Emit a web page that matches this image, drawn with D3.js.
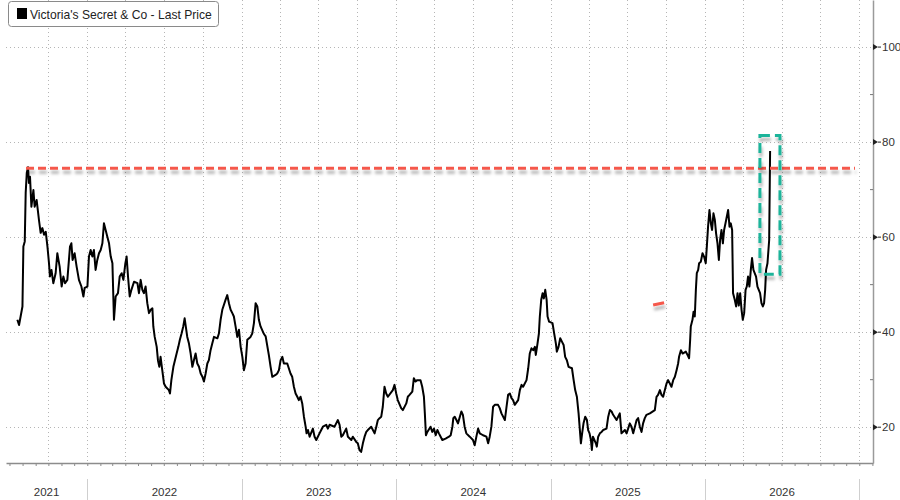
<!DOCTYPE html>
<html>
<head>
<meta charset="utf-8">
<script src="https://cdn.jsdelivr.net/npm/d3@7"></script>
<style>
  html, body { margin: 0; padding: 0; background: #fff; }
  svg { display: block; }
  text { font-family: "Liberation Sans", Arial, sans-serif; }
</style>
</head>
<body>
<script>
// ---------------- DATA ----------------
// time as decimal years
const dates = [
2021.547,2021.558,2021.580,2021.586,2021.595,2021.601,2021.608,2021.616,2021.622,2021.629,
2021.638,2021.651,2021.659,2021.672,2021.687,2021.698,2021.709,2021.720,2021.731,2021.742,
2021.752,2021.758,2021.768,2021.780,2021.795,2021.806,2021.821,2021.834,2021.845,2021.856,
2021.871,2021.888,2021.897,2021.905,2021.918,2021.931,2021.946,2021.962,2021.975,2021.983,
2022.001,2022.011,2022.022,2022.033,2022.043,2022.054,2022.065,2022.076,2022.087,2022.098,
2022.108,2022.119,2022.130,2022.141,2022.152,2022.163,2022.173,2022.184,2022.199,2022.210,
2022.223,2022.234,2022.247,2022.255,2022.264,2022.275,2022.286,2022.303,2022.325,2022.335,
2022.346,2022.357,2022.367,2022.378,2022.389,2022.400,2022.411,2022.422,2022.428,2022.437,
2022.450,2022.458,2022.467,2022.475,2022.486,2022.497,2022.508,2022.529,2022.536,2022.545,
2022.558,2022.579,2022.590,2022.600,2022.611,2022.622,2022.631,2022.648,2022.659,2022.670,
2022.681,2022.691,2022.702,2022.713,2022.724,2022.735,2022.746,2022.756,2022.767,2022.778,
2022.788,2022.799,2022.810,2022.821,2022.843,2022.853,2022.864,2022.875,2022.896,2022.907,
2022.918,2022.929,2022.940,2022.950,2022.961,2022.972,2022.983,2022.994,2023.005,2023.015,
2023.026,2023.037,2023.058,2023.069,2023.080,2023.091,2023.102,2023.112,2023.123,2023.145,
2023.156,2023.177,2023.188,2023.199,2023.220,2023.231,2023.242,2023.253,2023.264,2023.274,
2023.296,2023.317,2023.328,2023.339,2023.350,2023.361,2023.371,2023.382,2023.393,2023.404,
2023.415,2023.421,2023.430,2023.441,2023.462,2023.473,2023.484,2023.505,2023.516,2023.527,
2023.549,2023.559,2023.570,2023.602,2023.613,2023.624,2023.635,2023.646,2023.656,2023.678,
2023.689,2023.711,2023.721,2023.743,2023.753,2023.764,2023.775,2023.786,2023.797,2023.808,
2023.818,2023.840,2023.862,2023.873,2023.883,2023.894,2023.905,2023.915,2023.926,2023.937,
2023.948,2023.980,2023.991,2024.002,2024.012,2024.034,2024.045,2024.067,2024.077,2024.088,
2024.106,2024.116,2024.127,2024.138,2024.159,2024.170,2024.181,2024.187,2024.194,2024.203,
2024.224,2024.235,2024.246,2024.257,2024.268,2024.278,2024.289,2024.300,2024.321,2024.343,
2024.354,2024.365,2024.371,2024.380,2024.391,2024.401,2024.423,2024.433,2024.444,2024.455,
2024.477,2024.498,2024.509,2024.520,2024.531,2024.542,2024.563,2024.585,2024.596,2024.606,
2024.617,2024.628,2024.639,2024.660,2024.671,2024.682,2024.704,2024.715,2024.725,2024.736,
2024.747,2024.757,2024.768,2024.790,2024.801,2024.812,2024.822,2024.844,2024.855,2024.865,
2024.876,2024.887,2024.898,2024.904,2024.915,2024.924,2024.930,2024.939,2024.948,2024.956,
2024.965,2024.974,2024.980,2024.990,2025.012,2025.023,2025.034,2025.040,2025.051,2025.062,
2025.073,2025.084,2025.094,2025.105,2025.116,2025.138,2025.149,2025.159,2025.170,2025.181,
2025.191,2025.196,2025.204,2025.213,2025.224,2025.235,2025.243,2025.252,2025.261,2025.267,
2025.274,2025.293,2025.299,2025.308,2025.319,2025.330,2025.340,2025.362,2025.373,2025.384,
2025.395,2025.405,2025.427,2025.448,2025.459,2025.481,2025.492,2025.502,2025.513,2025.524,
2025.535,2025.546,2025.557,2025.567,2025.578,2025.589,2025.599,2025.610,2025.621,2025.643,
2025.675,2025.686,2025.696,2025.708,2025.718,2025.729,2025.740,2025.751,2025.761,2025.783,
2025.794,2025.805,2025.816,2025.826,2025.832,2025.844,2025.855,2025.876,2025.887,2025.897,
2025.904,2025.908,2025.919,2025.926,2025.934,2025.941,2025.947,2025.956,2025.962,2025.973,
2025.984,2025.994,2026.005,2026.012,2026.020,2026.029,2026.038,2026.046,2026.055,2026.064,
2026.072,2026.081,2026.090,2026.098,2026.107,2026.116,2026.124,2026.133,2026.150,2026.159,
2026.167,2026.176,2026.182,2026.193,2026.202,2026.211,2026.219,2026.228,2026.237,2026.245,
2026.254,2026.263,2026.271,2026.279,2026.288,2026.297,2026.305,2026.314,2026.331,2026.340,
2026.357,2026.366,2026.375,2026.383,2026.390,2026.396,2026.405,2026.416,2026.422
];
const prices = [
42.5,41.4,45.3,57.9,59.0,69.2,73.4,74.6,71.3,72.6,
66.3,69.8,66.3,67.7,63.5,60.8,61.8,60.4,61.0,57.9,
54.4,51.6,53.0,50.2,52.3,56.5,53.7,49.5,51.6,50.2,
50.9,57.9,58.6,55.1,56.5,53.7,50.9,49.5,47.4,49.2,
49.5,55.8,57.2,55.8,57.2,53.0,55.1,56.5,57.2,58.6,
62.8,61.4,60.0,58.6,55.8,54.4,42.5,47.4,48.1,51.6,
52.3,50.9,54.4,55.8,51.6,47.4,48.8,50.5,50.2,48.1,
50.9,48.8,48.1,49.5,46.0,43.9,44.6,44.9,41.1,38.9,
36.8,34.0,32.6,34.7,31.9,29.1,28.4,27.7,27.0,29.8,
32.6,35.4,36.8,38.3,39.6,41.1,42.8,38.9,37.5,35.4,
32.6,34.0,35.4,33.3,32.6,31.2,30.5,29.5,31.2,33.3,
34.0,36.1,37.5,38.9,38.6,39.6,42.5,44.6,46.7,47.7,
46.0,44.6,43.9,43.2,41.1,38.9,40.4,36.8,34.7,31.9,
33.3,38.3,38.9,39.6,41.8,46.0,45.3,42.5,41.1,39.5,
39.0,35.0,32.6,30.5,30.9,31.2,31.9,34.0,34.7,33.3,
33.3,31.2,30.5,28.4,27.0,26.3,25.6,26.3,24.9,22.1,
20.0,18.6,19.3,17.9,19.6,17.9,17.2,18.6,19.3,20.0,
20.4,19.6,20.4,20.0,20.7,21.4,20.4,17.9,18.2,19.6,
17.9,17.2,17.9,16.8,16.5,15.1,14.7,16.5,17.9,18.9,
19.3,20.0,18.6,20.0,21.4,21.8,22.1,24.2,28.4,27.0,
26.3,27.7,28.8,27.0,25.6,23.9,23.5,24.9,26.3,26.7,
27.4,30.2,29.5,29.8,29.8,28.4,26.3,22.8,18.2,18.9,
20.0,18.9,19.6,18.2,19.3,18.6,17.9,17.2,17.5,17.9,
18.2,20.0,21.8,22.1,21.4,20.7,23.2,22.5,20.0,18.6,
17.9,17.2,16.1,17.9,19.6,18.6,18.2,17.9,16.5,17.9,
20.0,24.2,24.6,24.6,23.9,22.8,21.4,24.2,26.7,27.0,
26.0,25.6,24.6,25.6,27.7,28.8,28.4,29.8,32.3,35.4,
36.5,36.1,36.8,35.1,37.5,39.6,43.2,46.7,48.1,47.0,
48.8,46.7,43.2,42.1,41.8,39.6,37.5,35.8,36.8,38.6,
37.9,37.2,34.7,34.0,32.6,32.3,29.8,27.7,26.3,22.8,
18.6,16.5,18.6,20.7,22.1,21.4,19.3,18.6,17.2,15.1,
17.9,16.5,15.8,17.9,18.6,18.9,19.3,19.6,22.1,23.5,
23.2,22.5,21.4,22.8,18.6,19.3,18.6,19.6,20.7,20.0,
18.6,20.0,21.4,21.8,20.0,18.9,20.7,21.8,22.5,22.8,
23.5,26.3,26.7,27.7,26.7,26.3,27.7,29.1,29.8,28.4,
29.8,30.5,31.9,33.3,34.7,36.1,35.4,35.8,35.1,34.4,
38.3,41.1,42.5,44.2,43.2,48.8,52.3,53.0,54.4,54.7,
56.5,55.8,54.4,57.9,62.1,65.6,62.8,61.4,64.9,63.5,
60.7,58.6,55.1,59.3,61.4,58.6,61.4,62.8,65.6,62.1,
62.8,61.4,48.1,46.7,45.3,48.1,45.5,48.1,44.6,42.5,
43.9,48.8,49.5,51.6,49.5,53.0,55.5,53.0,51.6,49.5,
48.1,46.0,45.3,46.0,48.8,53.0,54.4,59.3,78.0
];
const yTicks = [20, 40, 60, 80, 100];
const yMinorTicks = [30, 50, 70, 90];
const legendLabel = "Victoria's Secret & Co - Last Price";
// annotations (data coordinates)
const refLevel = [74.4];
const refSpan = [2021.603, 2026.972];
const smallMark = [[2025.664, 45.6], [2025.735, 46.1]];
const boxSpan = [2026.356, 2026.486];
const boxRange = [52.1, 81.3];
const xDomain = [2021.4734, 2027.0888];
const yDomain = [12.36, 109.8];

(function () {
function decToDate(t) {
  const yr = Math.floor(t);
  const s = Date.UTC(yr, 0, 1), e = Date.UTC(yr + 1, 0, 1);
  return new Date(s + (t - yr) * (e - s));
}
const series = dates.map((t, i) => ({ date: decToDate(t), value: prices[i] }));

const W = 900, H = 500;
const pL = 6, pR = 873, pT = 0, pB = 463;

const x = d3.scaleUtc().domain(xDomain.map(decToDate)).range([pL, pR]);
const y = d3.scaleLinear().domain(yDomain).range([pB, pT]);

const svg = d3.select("body").append("svg").attr("width", W).attr("height", H);

const defs = svg.append("defs");
const f = defs.append("filter").attr("id", "shadow")
  .attr("filterUnits", "userSpaceOnUse")
  .attr("x", 0).attr("y", 0).attr("width", W).attr("height", H);
f.append("feGaussianBlur").attr("in", "SourceAlpha").attr("stdDeviation", 1.6).attr("result", "blur");
f.append("feOffset").attr("in", "blur").attr("dx", 1).attr("dy", 4).attr("result", "off");
f.append("feFlood").attr("flood-color", "#000").attr("flood-opacity", 0.3).attr("result", "col");
f.append("feComposite").attr("in", "col").attr("in2", "off").attr("operator", "in").attr("result", "sh");
const fm = f.append("feMerge");
fm.append("feMergeNode").attr("in", "sh");
fm.append("feMergeNode").attr("in", "SourceGraphic");

// grid
const grid = svg.append("g");
const quarters = d3.utcMonth.every(3).range(decToDate(2021.6), x.domain()[1]);
grid.selectAll("line.v").data(quarters).join("line")
  .attr("x1", d => Math.round(x(d)) + 0.5).attr("x2", d => Math.round(x(d)) + 0.5)
  .attr("y1", pT).attr("y2", pB)
  .attr("stroke", "#b5b5b5").attr("stroke-width", 1).attr("stroke-dasharray", "1,3");
grid.selectAll("line.h").data(yTicks).join("line")
  .attr("x1", pL).attr("x2", pR)
  .attr("y1", d => Math.round(y(d)) + 0.5).attr("y2", d => Math.round(y(d)) + 0.5)
  .attr("stroke", "#b5b5b5").attr("stroke-width", 1).attr("stroke-dasharray", "1,3");

// bottom axis
const xAxis = d3.axisBottom(x).ticks(d3.utcMonth.every(1)).tickSize(3).tickSizeOuter(0).tickFormat("");
const gx = svg.append("g").attr("transform", `translate(0,${pB})`).call(xAxis);
gx.select(".domain").attr("stroke", "#8c8c8c").attr("stroke-width", 1.5);
gx.selectAll(".tick line").attr("stroke", "#8c8c8c");

const years = d3.utcYear.range(d3.utcYear.ceil(x.domain()[0]), x.domain()[1]);
svg.append("g").selectAll("line").data(years).join("line")
  .attr("x1", d => Math.round(x(d)) + 0.5).attr("x2", d => Math.round(x(d)) + 0.5)
  .attr("y1", 479).attr("y2", 500)
  .attr("stroke", "#cfcfcf").attr("stroke-width", 1);

const yearStarts = [d3.utcYear.floor(x.domain()[0])].concat(years);
const yearLabels = yearStarts.map(d => {
  const a = Math.max(x(d), pL), b = Math.min(x(d3.utcYear.offset(d, 1)), pR);
  return { label: d.getUTCFullYear(), cx: (a + b) / 2, w: b - a };
}).filter(d => d.w > 40);
svg.append("g").selectAll("text").data(yearLabels).join("text")
  .attr("x", d => d.cx).attr("y", 496)
  .attr("text-anchor", "middle").attr("font-size", 11.5).attr("fill", "#333")
  .text(d => d.label);

// right axis
const yAxis = d3.axisRight(y).tickValues(yTicks).tickSize(0).tickPadding(9).tickFormat(d3.format("d"));
const gy = svg.append("g").attr("transform", `translate(${pR},0)`).call(yAxis);
gy.select(".domain").attr("stroke", "#9a9a9a").attr("stroke-width", 1.5);
gy.selectAll(".tick text").attr("font-size", 11.5).attr("fill", "#333")
  .attr("font-family", "Liberation Sans, Arial, sans-serif");
gy.selectAll(".tick").append("path")
  .attr("d", "M0,-3L5,0L0,3Z").attr("fill", "#222");
gy.selectAll(".tick").append("line")
  .attr("x1", 5).attr("x2", 8).attr("stroke", "#222").attr("stroke-width", 1);

const yMinor = d3.axisLeft(y).tickValues(yMinorTicks).tickSize(3).tickFormat("");
const gym = svg.append("g").attr("transform", `translate(${pR},0)`).call(yMinor);
gym.select(".domain").remove();
gym.selectAll(".tick line").attr("stroke", "#777");

// price line
const line = d3.line().x(d => x(d.date)).y(d => y(d.value));
svg.append("path").datum(series)
  .attr("d", line).attr("fill", "none")
  .attr("stroke", "#000").attr("stroke-width", 2).attr("stroke-linejoin", "round");

// annotations
svg.append("line")
  .attr("x1", x(decToDate(refSpan[0]))).attr("x2", x(decToDate(refSpan[1])))
  .attr("y1", y(refLevel[0])).attr("y2", y(refLevel[0]))
  .attr("stroke", "#f5584c").attr("stroke-width", 3).attr("stroke-dasharray", "8,4")
  .attr("filter", "url(#shadow)");

svg.append("line")
  .attr("x1", x(decToDate(smallMark[0][0]))).attr("y1", y(smallMark[0][1]))
  .attr("x2", x(decToDate(smallMark[1][0]))).attr("y2", y(smallMark[1][1]))
  .attr("stroke", "#f5584c").attr("stroke-width", 3)
  .attr("filter", "url(#shadow)");

const bx0 = x(decToDate(boxSpan[0])), bx1 = x(decToDate(boxSpan[1]));
const by0 = y(boxRange[1]), by1 = y(boxRange[0]);
svg.append("rect")
  .attr("x", bx0).attr("y", by0).attr("width", bx1 - bx0).attr("height", by1 - by0)
  .attr("fill", "none").attr("stroke", "#1fb49a").attr("stroke-width", 3)
  .attr("stroke-dasharray", "10,5")
  .attr("filter", "url(#shadow)");

// legend
const lg = svg.append("g");
lg.append("rect").attr("x", 8.5).attr("y", 1.5).attr("width", 210).attr("height", 25)
  .attr("rx", 3).attr("fill", "#fff").attr("stroke", "#8a8a8a").attr("stroke-width", 1);
lg.append("rect").attr("x", 17).attr("y", 8).attr("width", 10).attr("height", 11).attr("fill", "#000");
const lt = lg.append("text").attr("x", 30).attr("y", 18.5)
  .attr("font-size", 12).attr("fill", "#222").text(legendLabel);
const w = lt.node().getComputedTextLength();
if (w > 0) lt.attr("font-size", Math.max(10, Math.min(13, 12 * 182 / w)));
})();
</script>
</body>
</html>
